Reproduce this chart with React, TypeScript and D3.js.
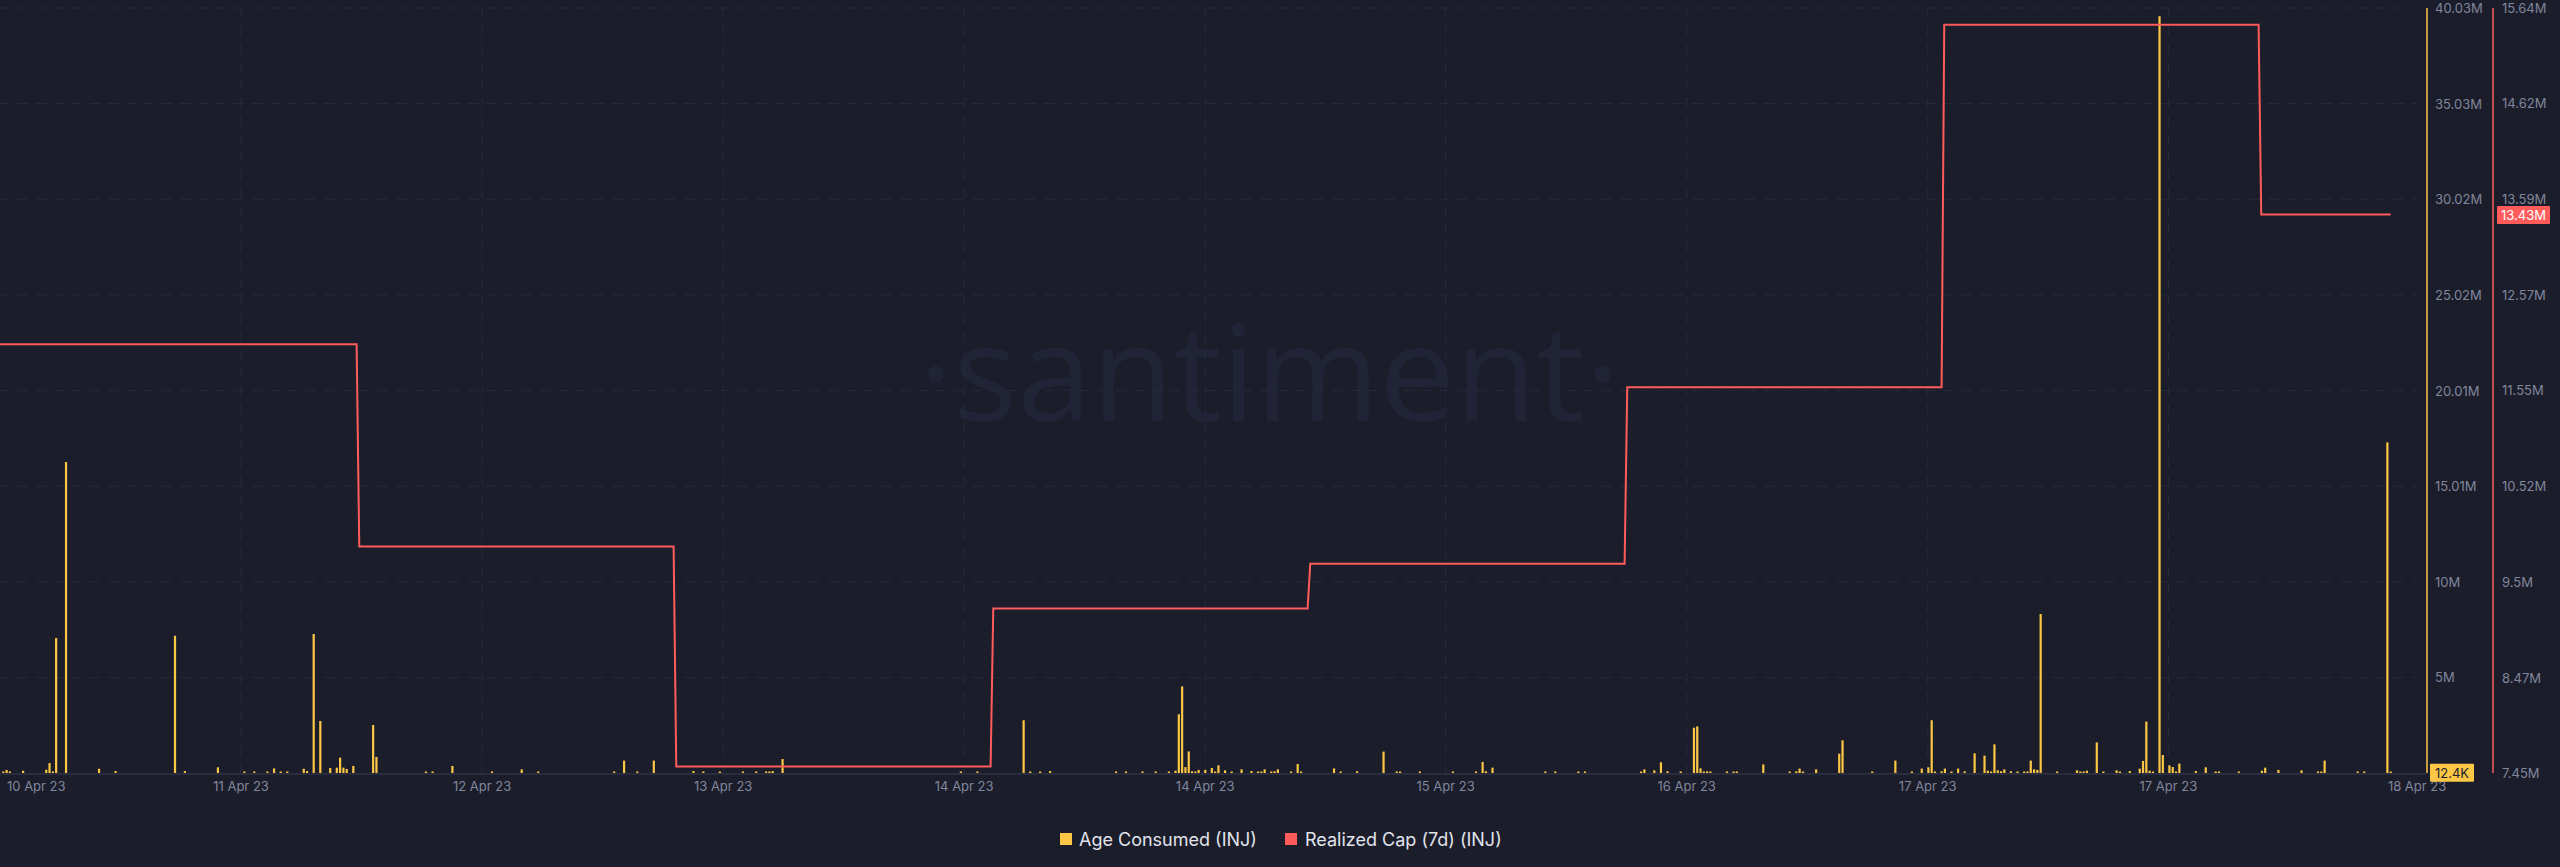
import React from "react";
import * as d3 from "d3";

// ---------- data ----------
// Age Consumed (INJ): 15-minute slots (index) and values in millions
const ageSlots = [1,2,3,7,14,15,16,17,20,30,35,53,56,66,74,77,81,83,85,87,92,93,95,97,100,102,103,104,105,107,113,114,
  129,131,137,149,158,163,186,189,193,198,210,213,218,225,229,232,233,234,237,
  291,296,310,312,315,318,338,341,346,350,354,356,357,358,359,360,361,362,363,365,367,368,369,371,373,376,379,381,382,383,385,386,387,391,393,394,404,406,411,419,423,424,
  430,440,447,449,450,452,468,471,478,480,497,498,501,503,505,509,513,514,515,516,517,518,523,525,526,534,542,544,545,546,550,557,558,567,574,
  579,582,584,585,586,588,589,591,593,595,598,601,602,603,604,605,606,607,609,611,613,614,615,616,617,618,623,629,630,631,632,635,637,641,642,645,648,649,650,651,652,654,655,657,658,659,660,665,668,671,672,678,685,686,690,697,702,703,704,714,716,723,724];
const ageValuesM = [0.07,0.16,0.05,0.12,0.17,0.52,0.07,7.06,16.27,0.22,0.1,7.18,0.1,0.3,0.05,0.05,0.07,0.24,0.05,0.05,0.22,0.1,7.27,2.72,0.26,0.28,0.8,0.28,0.21,0.37,2.51,0.84,
  0.03,0.03,0.37,0.03,0.19,0.03,0.03,0.65,0.03,0.65,0.1,0.03,0.03,0.05,0.07,0.05,0.07,0.1,0.73,
  0.03,0.07,2.76,0.03,0.03,0.1,0.05,0.05,0.03,0.05,0.05,0.12,3.07,4.53,0.31,1.13,0.09,0.05,0.16,0.16,0.26,0.03,0.4,0.14,0.05,0.19,0.1,0.03,0.03,0.19,0.03,0.09,0.19,0.03,0.47,0.05,0.24,0.05,0.09,1.12,0.05,0.07,
  0.05,0.03,0.05,0.58,0.09,0.28,0.07,0.07,0.03,0.03,0.07,0.19,0.14,0.56,0.09,0.03,2.37,2.44,0.24,0.05,0.09,0.03,0.03,0.05,0.05,0.45,0.05,0.09,0.23,0.07,0.19,1.01,1.71,0.05,0.65,
  0.03,0.23,0.3,2.76,0.03,0.09,0.23,0.03,0.23,0.09,1.03,0.91,0.12,0.05,1.5,0.14,0.09,0.19,0.09,0.07,0.03,0.03,0.65,0.19,0.16,8.32,0.03,0.14,0.07,0.05,0.12,1.6,0.03,0.14,0.05,0.1,0.23,0.63,2.69,0.12,0.05,39.6,0.94,0.4,0.31,0.07,0.49,0.1,0.3,0.07,0.07,0.03,0.12,0.28,0.16,0.14,0.03,0.03,0.65,0.05,0.03,17.3,0.0124];

// Realized Cap (7d) (INJ): slot where each daily level starts, and level in millions
const capStartSlots = [0, 108, 204, 300, 396, 492, 588, 684];
const capValuesM = [12.04, 9.875, 7.52, 9.21, 9.69, 11.58, 15.46, 13.43];
const capEndSlot = 724;

// axes
const xTickSlots = [0, 73, 146, 219, 292, 365, 437.8, 510.8, 583.8, 656.7, 732];
const xTickLabels = ["10 Apr 23","11 Apr 23","12 Apr 23","13 Apr 23","14 Apr 23","14 Apr 23","15 Apr 23","16 Apr 23","17 Apr 23","17 Apr 23","18 Apr 23"];
const ageTicksM = [0, 5, 10, 15.01, 20.01, 25.02, 30.02, 35.03, 40.03];
const capTicksM = [7.45, 8.47, 9.5, 10.52, 11.55, 12.57, 13.59, 14.62, 15.64];
const ageLastLabel = "12.4K";
const capLastLabel = "13.43M";
const seriesNames = ["Age Consumed (INJ)", "Realized Cap (7d) (INJ)"];

// ---------- style ----------
const W = 2560, H = 867;
const BG = "#1b1d2b";
const YELLOW = "#fcc745";
const RED = "#ff5b5b";
const GRID = "#272a3c";
const AXIS_TXT = "#80869b";
const FONT = "Inter, 'Noto Sans', sans-serif";

const fmtM = (v: number) => (v === 0 ? "0" : `${+v.toFixed(2)}M`);

export default function App() {
  const plotLeft = 0, plotRight = 2427, plotTop = 8, plotBottom = 773;
  const x = d3.scaleLinear().domain([0, 735]).range([plotLeft, plotRight]);
  const yAge = d3.scaleLinear().domain([0, 40.03]).range([plotBottom, plotTop]);
  const yCap = d3.scaleLinear().domain([7.45, 15.64]).range([plotBottom, plotTop]);

  const capPoints: [number, number][] = [];
  capStartSlots.forEach((s, i) => {
    const end = i < capStartSlots.length - 1 ? capStartSlots[i + 1] : capEndSlot;
    capPoints.push([i === 0 ? s : s + 0.8, capValuesM[i]]);
    capPoints.push([end, capValuesM[i]]);
  });
  const capLine = d3.line<[number, number]>().x(d => x(d[0])).y(d => yCap(d[1]));

  const axisXAge = 2427, axisXCap = 2493;
  const lastAge = ageValuesM[ageValuesM.length - 1];
  const lastCap = capValuesM[capValuesM.length - 1];

  return (
    <svg width={W} height={H} style={{ position: "fixed", left: 0, top: 0, display: "block" }} fontFamily={FONT}>
      <rect x={0} y={0} width={W} height={H} fill={BG} />

      {/* watermark */}
      <text x={1269} y={421} textAnchor="middle" fontSize={134} fontWeight={400} fill="#212436" fontFamily="'Open Sans', sans-serif">·santiment·</text>

      {/* horizontal grid */}
      {ageTicksM.slice(1).map((t, i) => (
        <line key={"hg" + i} x1={plotLeft} x2={2417} y1={yAge(t)} y2={yAge(t)} stroke={GRID} strokeWidth={1} strokeDasharray="10 8" />
      ))}
      {/* vertical grid */}
      {xTickSlots.slice(1, -1).map((s, i) => (
        <line key={"vg" + i} x1={x(s)} x2={x(s)} y1={plotTop} y2={plotBottom} stroke={GRID} strokeWidth={1} strokeDasharray="10 8" />
      ))}

      {/* bars */}
      {ageSlots.map((s, i) => {
        const y = yAge(ageValuesM[i]);
        const h = Math.max(plotBottom - y, 1.5);
        return <rect key={"b" + i} x={x(s) - 1.1} y={plotBottom - h} width={2.2} height={h} fill={YELLOW} />;
      })}

      {/* x baseline */}
      <line x1={0} x2={plotRight} y1={plotBottom + 1} y2={plotBottom + 1} stroke="#2a2d40" strokeWidth={2} />

      {/* realized cap line */}
      <path d={capLine(capPoints) || ""} fill="none" stroke={RED} strokeWidth={2} strokeLinejoin="miter" />

      {/* x tick labels */}
      {xTickSlots.map((s, i) => {
        const first = i === 0;
        return (
          <text key={"xt" + i} x={first ? 7 : x(s)} y={786} textAnchor={first ? "start" : "middle"} dominantBaseline="central" fontSize={13} fill={AXIS_TXT}>
            {xTickLabels[i]}
          </text>
        );
      })}

      {/* right axes */}
      <line x1={axisXAge} x2={axisXAge} y1={plotTop} y2={plotBottom} stroke={YELLOW} strokeWidth={1.5} />
      <line x1={axisXCap} x2={axisXCap} y1={plotTop} y2={plotBottom} stroke={RED} strokeWidth={1.5} />
      {ageTicksM.slice(1).map((t, i) => (
        <text key={"ya" + i} x={axisXAge + 8} y={yAge(t)} dominantBaseline="central" fontSize={13} fill={AXIS_TXT}>{fmtM(t)}</text>
      ))}
      {capTicksM.map((t, i) => (
        <text key={"yc" + i} x={axisXCap + 9} y={yCap(t)} dominantBaseline="central" fontSize={13} fill={AXIS_TXT}>{fmtM(t)}</text>
      ))}

      {/* last value badges */}
      <rect x={axisXAge + 3} y={yAge(lastAge) - 9} width={44} height={18} fill={YELLOW} rx={1} />
      <text x={axisXAge + 25} y={yAge(lastAge)} textAnchor="middle" dominantBaseline="central" fontSize={13} fill="#1b1d2b">{ageLastLabel}</text>
      <rect x={axisXCap + 4} y={yCap(lastCap) - 8.5} width={53} height={18} fill={RED} rx={1} />
      <text x={axisXCap + 30.5} y={yCap(lastCap) + 0.5} textAnchor="middle" dominantBaseline="central" fontSize={13} fill="#ffffff">{capLastLabel}</text>

      {/* legend */}
      <rect x={1060} y={833} width={12} height={12} fill={YELLOW} />
      <text x={1079} y={839} dominantBaseline="central" fontSize={18} fill="#e1e3eb">{seriesNames[0]}</text>
      <rect x={1285} y={833} width={12} height={12} fill={RED} />
      <text x={1305} y={839} dominantBaseline="central" fontSize={18} fill="#e1e3eb">{seriesNames[1]}</text>
    </svg>
  );
}
